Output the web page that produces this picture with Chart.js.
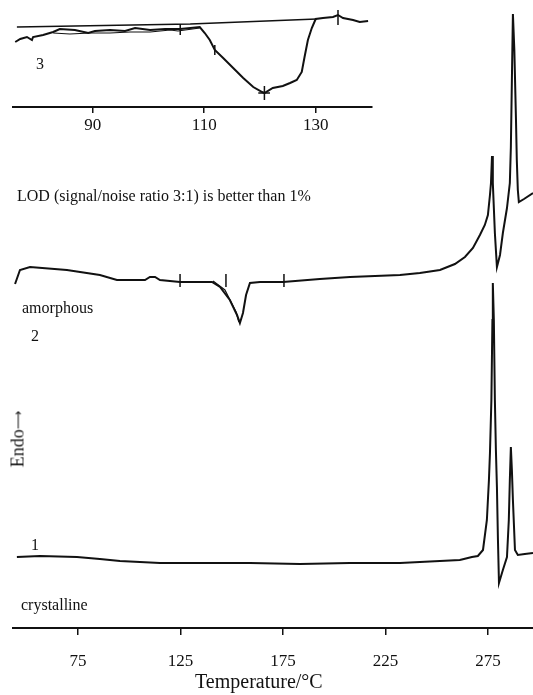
<!DOCTYPE html>
<html>
<head>
<meta charset="utf-8">
<script src="https://cdn.jsdelivr.net/npm/chart.js@4.4.1/dist/chart.umd.min.js"></script>
<style>
  body { margin: 0; background: #fff; }
  #wrap { position: relative; width: 533px; height: 695px; overflow: hidden;
          font-family: 'Liberation Serif', 'Times New Roman', serif; color: #111; }
  #wrap canvas { position: absolute; left: 0; top: 0; }
  .lbl { position: absolute; font-size: 16px; line-height: 16px; white-space: nowrap; }
  .axis-title { position: absolute; font-size: 20px; line-height: 20px; white-space: nowrap; }
  .endo { position: absolute; left: 18px; top: 439px; font-size: 18px; line-height: 18px;
          white-space: nowrap; transform: translate(-50%, -50%) rotate(-90deg); }
  .endo .arrow { font-family: 'DejaVu Sans', sans-serif; font-size: 13px; vertical-align: 1px; }
</style>
</head>
<body>
<div id="wrap">
  <canvas id="main" width="533" height="695"></canvas>
  <canvas id="inset" width="380" height="140"></canvas>
  <div class="lbl" style="left:36px;top:56px">3</div>
  <div class="lbl" style="left:17px;top:188px">LOD (signal/noise ratio 3:1) is better than 1%</div>
  <div class="lbl" style="left:22px;top:300px">amorphous</div>
  <div class="lbl" style="left:31px;top:328px">2</div>
  <div class="lbl" style="left:31px;top:537px">1</div>
  <div class="lbl" style="left:21px;top:597px">crystalline</div>
  <div class="endo">Endo<span class="arrow">⟶</span></div>
  <div class="axis-title" style="left:195px;top:671px">Temperature/°C</div>
</div>
<script>
const FONT = "'Liberation Serif', 'Times New Roman', serif";
const INK = '#111';

// x 轴刻度
const mainTicks = [75, 125, 175, 225, 275];
const insetTicks = [90, 110, 130];

// 曲线 1: crystalline (温度 °C / 热流 a.u.)
const crystallineT = [45.2, 56.5, 74.5, 85.7, 95.5, 115.0, 134.5, 158.9, 183.3, 207.7,
  232.1, 251.6, 261.3, 267.2, 270.1, 272.6, 274.5, 275.5, 276.0, 276.7,
  277.2, 277.4, 277.9, 278.4, 278.9, 279.4, 279.9, 280.4, 282.3, 284.3,
  285.2, 285.7, 286.2, 286.7, 287.2, 288.2, 289.6, 293.0, 297.0];
const crystallineHF = [71, 72, 71, 69, 67, 65, 65, 65, 64, 65,
  65, 67, 68, 71, 72, 78, 108, 148, 175, 228,
  308, 345, 308, 228, 178, 141, 88, 45, 58, 71,
  108, 148, 181, 158, 128, 78, 73, 74, 75];

// 曲线 2: amorphous
const amorphousT = [44.3, 46.7, 51.6, 69.6, 85.7, 94.0, 107.7, 110.1, 112.6, 115.0,
  124.8, 140.4, 144.3, 149.1, 152.6, 154.0, 155.5, 157.0, 158.9, 163.8,
  175.0, 193.0, 207.7, 232.1, 241.8, 251.6, 258.9, 263.8, 267.7, 271.1,
  273.5, 275.0, 276.0, 276.5, 277.0, 277.4, 278.4, 279.4, 280.9, 282.3,
  284.3, 285.7, 286.2, 286.7, 287.2, 287.9, 288.7, 289.1, 289.6, 290.1,
  292.6, 297.0];
const amorphousHF = [344, 358, 361, 358, 353, 348, 348, 351, 351, 348,
  346, 346, 341, 328, 313, 305, 315, 333, 345, 346,
  346, 349, 351, 353, 355, 358, 364, 371, 380, 393,
  403, 413, 433, 445, 472, 445, 395, 361, 373, 395,
  420, 445, 481, 548, 614, 578, 508, 468, 438, 426,
  429, 435];
// 积分基线上的竖线标记和切线
const amorphousMarkT = [124.8, 147.2, 175.5];
const amorphousMarkLo = [341, 341, 341];
const amorphousMarkHi = [354, 354, 354];
const amorphousTangentT = [140.9, 146.7, 152.1, 153.5];
const amorphousTangentHF = [347, 338, 316, 306];

// 曲线 3 (插图, 放大)
const insetT = [76.1, 77.0, 78.2, 79.1, 79.3, 81.1, 82.9, 84.1, 86.8, 89.2,
  90.4, 93.1, 95.8, 97.6, 100.3, 103.0, 105.7, 109.2, 110.1, 111.0,
  111.9, 113.4, 115.2, 117.0, 118.8, 120.4, 120.8, 122.3, 124.1, 125.4,
  126.6, 127.5, 128.0, 128.6, 129.3, 130.0, 131.3, 133.1, 134.0, 134.9,
  136.7, 137.9, 139.4];
const insetHF = [65, 68, 70, 67, 70, 72, 75, 78, 77, 74,
  76, 77, 76, 79, 77, 78, 78, 80, 74, 67,
  57, 49, 39, 29, 20, 15, 14, 19, 21, 24,
  27, 35, 50, 67, 79, 88, 89, 90, 92, 89,
  87, 85, 86];
const insetRepeatT = [82.9, 85.9, 89.5, 93.1, 96.7, 100.3, 103.9, 105.3, 109.2];
const insetRepeatHF = [74, 73, 74, 74, 75, 75, 77, 76, 79];
const insetBaseT = [76.4, 107.5, 130.2];
const insetBaseHF = [80, 83, 88];
const insetMarkT = [105.7, 111.9, 120.8, 134.0];
const insetMarkLo = [72, 52, 7, 82];
const insetMarkHi = [83, 62, 21, 97];
const insetCrossT = [119.7, 121.8];
const insetCrossHF = [14, 14];

function toPoints(xs, ys) {
    return xs.map((x, i) => ({ x: x, y: ys[i] }));
}

// 竖线段, 用 null 断开
function markPoints(xs, lo, hi) {
    const pts = [];
    xs.forEach((x, i) => {
        pts.push({ x: x, y: lo[i] }, { x: x, y: hi[i] }, { x: x, y: null });
    });
    return pts;
}

function line(data, width) {
    return {
        data: data,
        borderColor: INK,
        borderWidth: width,
        pointRadius: 0,
        fill: false,
        tension: 0,
        spanGaps: false
    };
}

function xAxis(min, max, ticks, tickLen, pad) {
    return {
        type: 'linear',
        min: min,
        max: max,
        afterBuildTicks: axis => { axis.ticks = ticks.map(v => ({ value: v })); },
        ticks: {
            autoSkip: false,
            maxRotation: 0,
            color: INK,
            padding: pad,
            font: { family: FONT, size: 17 }
        },
        grid: {
            display: true,
            drawOnChartArea: false,
            drawTicks: true,
            tickLength: tickLen,
            color: INK,
            lineWidth: 1.5
        },
        border: { display: true, color: INK, width: 2 }
    };
}

const common = {
    responsive: false,
    animation: false,
    events: [],
    plugins: { legend: { display: false }, tooltip: { enabled: false } }
};

new Chart(document.getElementById('main').getContext('2d'), {
    type: 'line',
    data: {
        datasets: [
            line(toPoints(crystallineT, crystallineHF), 2),
            line(toPoints(amorphousT, amorphousHF), 2),
            line(toPoints(amorphousTangentT, amorphousTangentHF), 1.2),
            line(markPoints(amorphousMarkT, amorphousMarkLo, amorphousMarkHi), 1.5)
        ]
    },
    options: {
        ...common,
        layout: { padding: { left: 13, right: 0, top: 0, bottom: 6.6 } },
        scales: {
            x: xAxis(43.3, 297, mainTicks, 7, 16.5),
            y: { display: false, min: 0, max: 628 }
        }
    }
});

new Chart(document.getElementById('inset').getContext('2d'), {
    type: 'line',
    data: {
        datasets: [
            line(toPoints(insetBaseT, insetBaseHF), 1.6),
            line(toPoints(insetRepeatT, insetRepeatHF), 1.2),
            line(toPoints(insetT, insetHF), 2),
            line(markPoints(insetMarkT, insetMarkLo, insetMarkHi), 1.5),
            line(toPoints(insetCrossT, insetCrossHF), 1.5)
        ]
    },
    options: {
        ...common,
        layout: { padding: { left: 13, right: 8, top: 0, bottom: 2.6 } },
        scales: {
            x: xAxis(75.7, 140.1, insetTicks, 6, 2),
            y: { display: false, min: 0, max: 107 }
        }
    }
});
</script>
</body>
</html>
